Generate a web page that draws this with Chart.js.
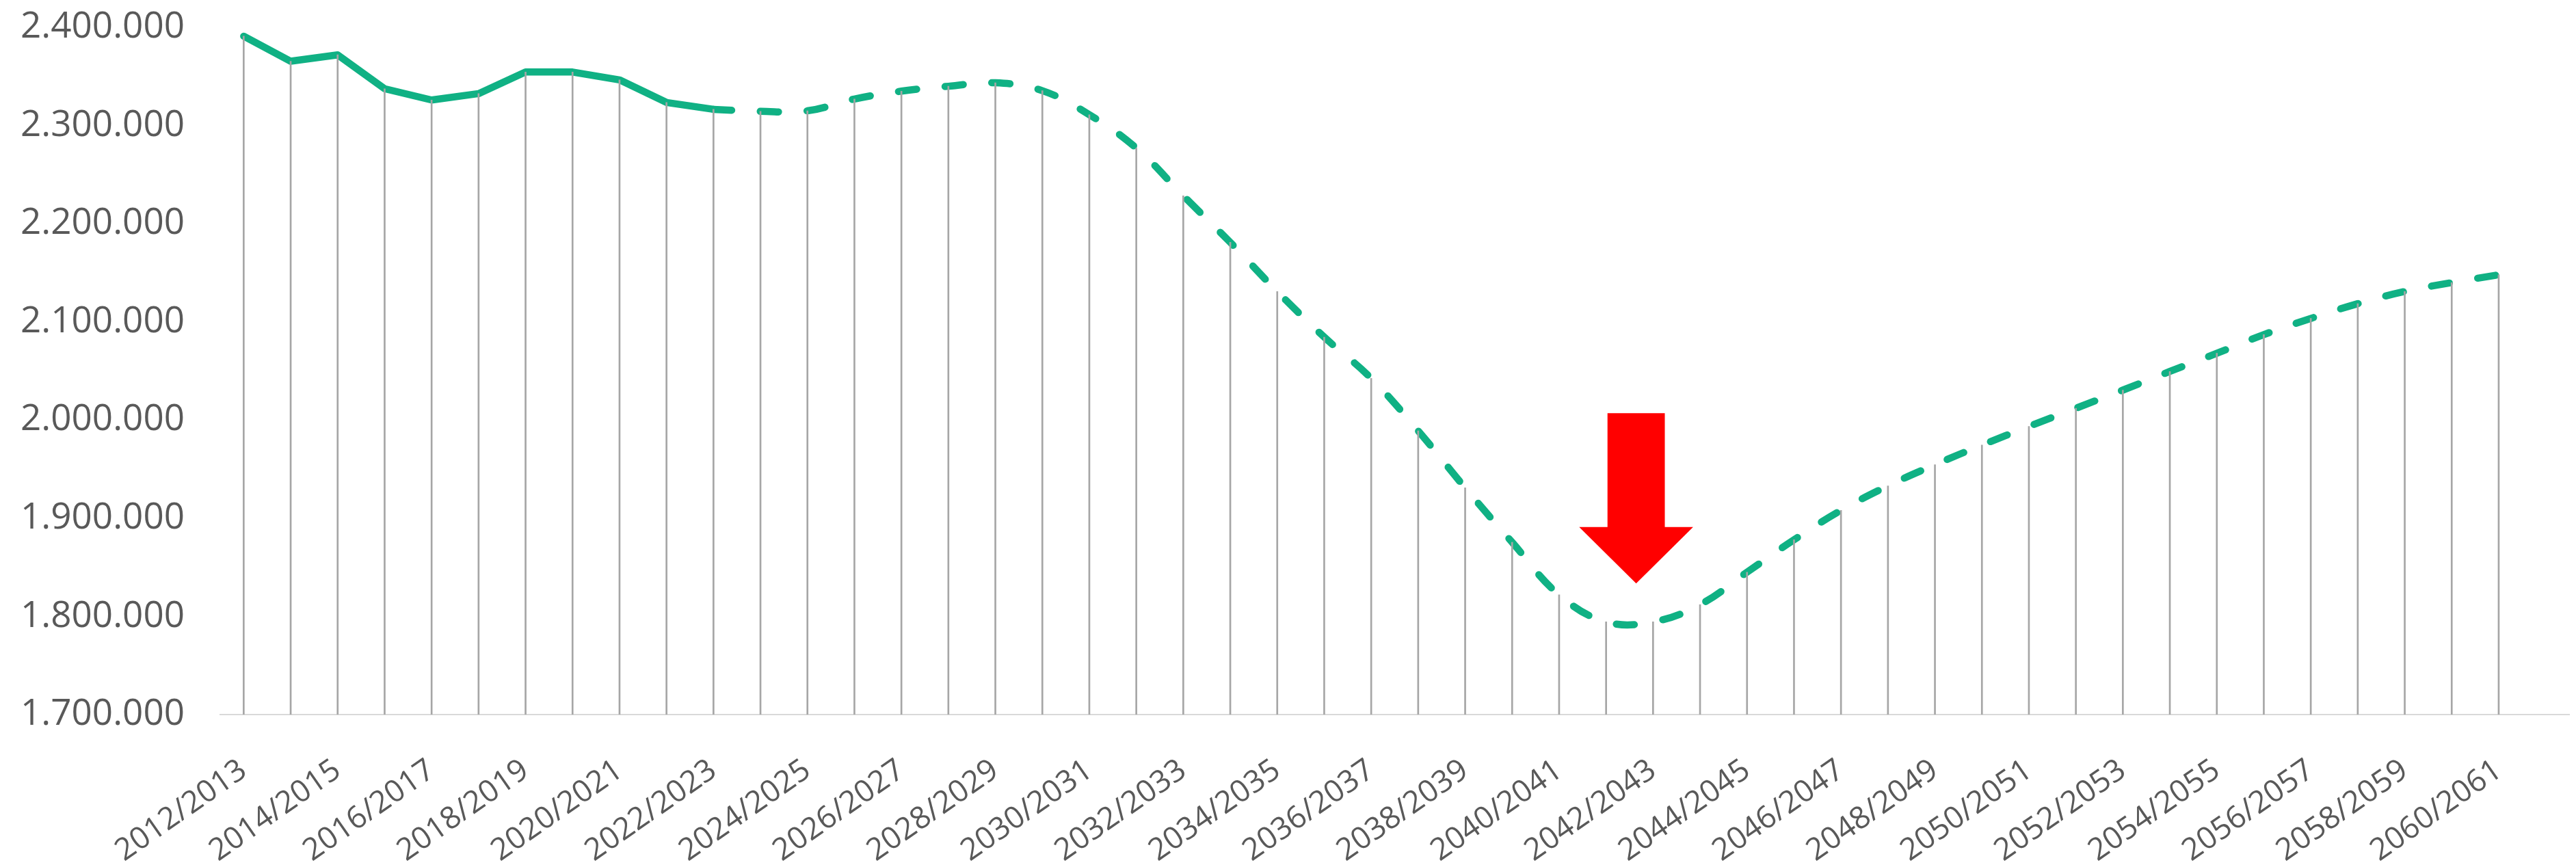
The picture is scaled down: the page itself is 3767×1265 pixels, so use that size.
<!DOCTYPE html>
<html lang="de">
<head>
<meta charset="utf-8">
<title>Schülerzahlen 2012/2013 – 2060/2061</title>
<script src="https://cdn.jsdelivr.net/npm/chart.js@4.4.1/dist/chart.umd.min.js"></script>
<style>
  html, body { margin: 0; padding: 0; background: #ffffff; }
  #wrap { width: 3767px; height: 1265px; }
</style>
</head>
<body>
<div id="wrap"><canvas id="chart" width="3767" height="1265"></canvas></div>
<script>
// School years on the category axis (the last one stays empty)
const schoolYears = [
  '2012/2013','2013/2014','2014/2015','2015/2016','2016/2017','2017/2018','2018/2019',
  '2019/2020','2020/2021','2021/2022','2022/2023','2023/2024','2024/2025','2025/2026',
  '2026/2027','2027/2028','2028/2029','2029/2030','2030/2031','2031/2032','2032/2033',
  '2033/2034','2034/2035','2035/2036','2036/2037','2037/2038','2038/2039','2039/2040',
  '2040/2041','2041/2042','2042/2043','2043/2044','2044/2045','2045/2046','2046/2047',
  '2047/2048','2048/2049','2049/2050','2050/2051','2051/2052','2052/2053','2053/2054',
  '2054/2055','2055/2056','2056/2057','2057/2058','2058/2059','2059/2060','2060/2061',
  '2061/2062'
];

// Observed values 2012/2013 – 2022/2023
const observed = [
  2391000, 2365500, 2372000, 2337500, 2326000, 2332500, 2354500,
  2354500, 2346500, 2323500, 2316500
];

// Projection 2022/2023 – 2060/2061 (starts at the last observed year)
const projected = [
  2316500, 2314500, 2315000, 2327000, 2335000, 2340000, 2343500,
  2335500, 2311000, 2277000, 2228500, 2181000, 2131000, 2084500,
  2042500, 1989000, 1931000, 1875500, 1822000, 1794500, 1794500,
  1812000, 1845000, 1878000, 1908000, 1933000, 1954500, 1974500,
  1993500, 2012000, 2030500, 2049500, 2068000, 2087000, 2103500,
  2118500, 2131000, 2140000, 2148000
];
const projectionStart = 10;

// Y axis range and tick step
const yMin = 1700000;
const yMax = 2400000;
const yStep = 100000;

// Down arrow marking the low point: category position and value levels
const arrowAt = 29.64;
const arrowTop = 2007000;
const arrowNeck = 1891000;
const arrowTip = 1833500;
const arrowShaftHalf = 0.61;   // in category widths
const arrowHeadHalf = 1.213;   // in category widths

// Series aligned to the category axis
const observedSeries = schoolYears.map((_, i) => i < observed.length ? observed[i] : null);
const projectedSeries = schoolYears.map((_, i) => {
  const k = i - projectionStart;
  return k >= 0 && k < projected.length ? projected[k] : null;
});
const allValues = schoolYears.map((_, i) =>
  observedSeries[i] !== null ? observedSeries[i] : projectedSeries[i]);
const dropLines = allValues.map(v => v === null ? null : [yMin, v]);

const GREEN = '#10b184';
const TEXT = '#595959';
const FONT = '"Open Sans", "Noto Sans", sans-serif';

function formatThousands(v) {
  return String(Math.round(v)).replace(/\B(?=(\d{3})+(?!\d))/g, '.');
}

const arrowPlugin = {
  id: 'lowPointArrow',
  afterDatasetsDraw(chart) {
    const x = chart.scales.x;
    const y = chart.scales.y;
    const cx = x.getPixelForValue(arrowAt);
    const unit = x.getPixelForValue(1) - x.getPixelForValue(0);
    const sh = arrowShaftHalf * unit;
    const hh = arrowHeadHalf * unit;
    const yTop = y.getPixelForValue(arrowTop);
    const yNeck = y.getPixelForValue(arrowNeck);
    const yTip = y.getPixelForValue(arrowTip);
    const ctx = chart.ctx;
    ctx.save();
    ctx.beginPath();
    ctx.moveTo(cx - sh, yTop);
    ctx.lineTo(cx + sh, yTop);
    ctx.lineTo(cx + sh, yNeck);
    ctx.lineTo(cx + hh, yNeck);
    ctx.lineTo(cx, yTip);
    ctx.lineTo(cx - hh, yNeck);
    ctx.lineTo(cx - sh, yNeck);
    ctx.closePath();
    ctx.fillStyle = '#ff0000';
    ctx.fill();
    ctx.restore();
  }
};

new Chart(document.getElementById('chart'), {
  type: 'line',
  data: {
    labels: schoolYears,
    datasets: [
      {
        type: 'bar',
        label: 'Lotlinien',
        data: dropLines,
        backgroundColor: '#a6a6a6',
        barThickness: 2,
        order: 0
      },
      {
        label: 'Schüler',
        data: observedSeries,
        borderColor: GREEN,
        borderWidth: 10.5,
        borderCapStyle: 'round',
        borderJoinStyle: 'round',
        pointRadius: 0,
        tension: 0,
        spanGaps: false,
        order: 1
      },
      {
        label: 'Prognose',
        data: projectedSeries,
        borderColor: GREEN,
        borderWidth: 10.5,
        borderDash: [26.5, 42],
        borderCapStyle: 'round',
        borderJoinStyle: 'round',
        pointRadius: 0,
        tension: 0.4,
        spanGaps: false,
        order: 1
      }
    ]
  },
  options: {
    responsive: false,
    animation: false,
    devicePixelRatio: 1,
    layout: { padding: { top: 40, right: 10, left: 0, bottom: 0 } },
    plugins: {
      legend: { display: false },
      tooltip: { enabled: false },
      title: { display: false }
    },
    scales: {
      x: {
        type: 'category',
        offset: true,
        grid: { display: false },
        border: { display: true, color: '#d9d9d9', width: 2 },
        ticks: {
          autoSkip: false,
          minRotation: 35,
          maxRotation: 35,
          padding: 47,
          color: TEXT,
          font: { family: FONT, size: 45 },
          callback: function (value, index) {
            return index % 2 === 0 && index < 49 ? this.getLabelForValue(value) : '';
          }
        },
        afterFit: (scale) => {
          scale.height = 220;
          scale.paddingLeft = 0;
          scale.paddingRight = 0;
        }
      },
      y: {
        min: yMin,
        max: yMax,
        grid: { display: false, drawTicks: false },
        border: { display: false },
        ticks: {
          stepSize: yStep,
          padding: 52,
          color: TEXT,
          font: { family: FONT, size: 53 },
          callback: (v) => formatThousands(v)
        },
        afterFit: (scale) => {
          scale.width = 322;
          scale.paddingTop = 0;
          scale.paddingBottom = 0;
        }
      }
    }
  },
  plugins: [arrowPlugin]
});
</script>
</body>
</html>
